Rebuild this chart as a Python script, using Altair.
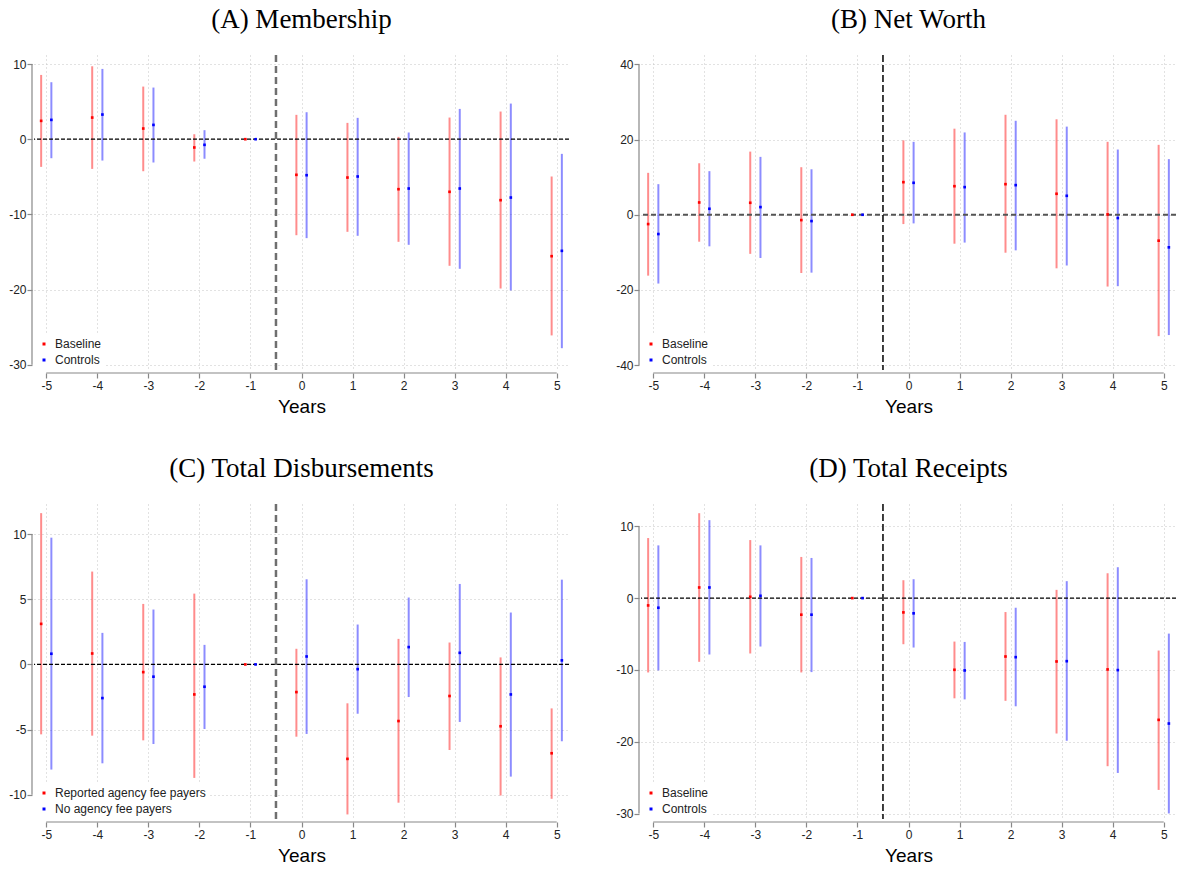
import altair as alt
import pandas as pd

years = [-5, -4, -3, -2, -1, 0, 1, 2, 3, 4, 5]
event_line = [-0.5]

# (A) Membership
a_base_est = [2.44, 2.88, 1.42, -1.10, 0.0, -4.74, -5.10, -6.65, -7.00, -8.11, -15.56]
a_base_lo = [-3.68, -3.95, -4.26, -2.97, 0.0, -12.77, -12.32, -13.65, -16.84, -19.86, -26.10]
a_base_hi = [8.55, 9.70, 7.00, 0.66, 0.0, 3.24, 2.17, 0.31, 2.88, 3.68, -4.96]
a_ctrl_est = [2.57, 3.28, 1.90, -0.75, 0.0, -4.79, -4.96, -6.56, -6.56, -7.76, -14.85]
a_ctrl_lo = [-2.53, -2.84, -3.10, -2.60, 0.0, -13.16, -12.85, -14.05, -17.24, -20.12, -27.80]
a_ctrl_hi = [7.58, 9.35, 6.87, 1.20, 0.0, 3.59, 2.84, 0.89, 4.03, 4.74, -1.95]

# (B) Net Worth
b_base_est = [-2.48, 3.27, 3.19, -1.42, 0.0, 8.67, 7.60, 8.14, 5.58, 0.09, -6.90]
b_base_lo = [-16.2, -7.17, -10.4, -15.5, 0.0, -2.48, -7.70, -10.1, -14.25, -19.1, -32.3]
b_base_hi = [11.15, 13.7, 16.8, 12.65, 0.0, 19.8, 22.9, 26.6, 25.4, 19.4, 18.6]
b_ctrl_est = [-5.13, 1.59, 2.04, -1.68, 0.0, 8.50, 7.35, 7.88, 5.04, -0.88, -8.67]
b_ctrl_lo = [-18.3, -8.4, -11.5, -15.4, 0.0, -2.3, -7.4, -9.47, -13.5, -19.0, -32.0]
b_ctrl_hi = [8.14, 11.6, 15.4, 12.1, 0.0, 19.4, 21.9, 25.0, 23.45, 17.35, 14.8]

# (C) Total Disbursements
c_base_est = [3.11, 0.84, -0.59, -2.30, 0.0, -2.12, -7.24, -4.34, -2.42, -4.74, -6.81]
c_base_lo = [-5.36, -5.46, -5.82, -8.70, 0.0, -5.54, -11.5, -10.6, -6.56, -10.05, -10.3]
c_base_hi = [11.6, 7.12, 4.64, 5.43, 0.0, 1.20, -2.98, 1.96, 1.68, 0.54, -3.37]
c_ctrl_est = [0.82, -2.58, -0.94, -1.71, 0.0, 0.61, -0.36, 1.33, 0.89, -2.30, 0.31]
c_ctrl_lo = [-8.06, -7.58, -6.10, -4.95, 0.0, -5.33, -3.78, -2.50, -4.41, -8.60, -5.89]
c_ctrl_hi = [9.72, 2.42, 4.21, 1.50, 0.0, 6.53, 3.06, 5.13, 6.17, 3.98, 6.50]

# (D) Total Receipts
d_base_est = [-1.02, 1.48, 0.18, -2.31, 0.0, -1.99, -9.98, -8.13, -8.82, -9.93, -16.95]
d_base_lo = [-10.35, -8.87, -7.71, -10.35, 0.0, -6.42, -13.95, -14.3, -18.85, -23.4, -26.7]
d_base_hi = [8.36, 11.82, 8.08, 5.73, 0.0, 2.49, -6.05, -1.94, 1.15, 3.46, -7.30]
d_ctrl_est = [-1.34, 1.48, 0.32, -2.31, 0.0, -2.12, -10.07, -8.22, -8.78, -10.02, -17.46]
d_ctrl_lo = [-10.07, -7.85, -6.74, -10.3, 0.0, -6.88, -14.1, -15.06, -19.86, -24.34, -29.98]
d_ctrl_hi = [7.34, 10.85, 7.34, 5.59, 0.0, 2.63, -6.10, -1.34, 2.36, 4.30, -4.94]

titles = ["(A) Membership", "(B) Net Worth", "(C) Total Disbursements", "(D) Total Receipts"]
labels_default = ["Baseline", "Controls"]
labels_c = ["Reported agency fee payers", "No agency fee payers"]

ticks_a = [-30, -20, -10, 0, 10]
ticks_b = [-40, -20, 0, 20, 40]
ticks_c = [-10, -5, 0, 5, 10]
ticks_d = [-30, -20, -10, 0, 10]

W, H = 535, 315
XDOM = [-5.24, 5.24]
COLORS = ["#ff0000", "#0000ff"]


def frame(labels, b_est, b_lo, b_hi, c_est, c_lo, c_hi):
    rows = []
    for i, yr in enumerate(years):
        rows.append(dict(year=yr, series=labels[0], est=b_est[i], lo=b_lo[i], hi=b_hi[i], off=-0.1))
        rows.append(dict(year=yr, series=labels[1], est=c_est[i], lo=c_lo[i], hi=c_hi[i], off=0.1))
    return pd.DataFrame(rows)


def panel(title, df, labels, ticks, ydom, zero_style, vline_style):
    xs = alt.Scale(domain=XDOM, nice=False, zero=False)
    ys = alt.Scale(domain=ydom, nice=False, zero=False)
    lab = "'' + datum.value"
    xaxis = alt.Axis(values=years, title="Years", domain=False, offset=3, grid=True,
                     labelExpr=lab, labelPadding=2, titlePadding=6)
    yaxis = alt.Axis(values=ticks, title=None, domain=False, offset=2, grid=True,
                     labelExpr=lab, labelPadding=1)
    base = alt.Chart(df).transform_calculate(xpos="datum.year + datum.off")

    bar_layers = []
    for k in range(2):
        enc = dict(x=alt.X("xpos:Q", scale=xs), y=alt.Y("lo:Q", scale=ys), y2="hi:Q")
        if k == 0:
            enc = dict(x=alt.X("xpos:Q", scale=xs, axis=xaxis), y=alt.Y("lo:Q", scale=ys, axis=yaxis), y2="hi:Q")
        bar_layers.append(
            base.transform_filter(alt.datum.series == labels[k])
            .mark_rule(strokeWidth=2, opacity=0.45, color=COLORS[k]).encode(**enc)
        )
    pts = base.mark_square(size=7, opacity=1, filled=True).encode(
        x=alt.X("xpos:Q", scale=xs),
        y=alt.Y("est:Q", scale=ys),
        color=alt.Color("series:N", scale=alt.Scale(domain=labels, range=COLORS),
                        legend=alt.Legend(title=None, orient="bottom-left", offset=0, fillColor="white",
                                          padding=4, symbolType="square", symbolSize=9,
                                          symbolStrokeWidth=0,
                                          labelFont="Liberation Sans", labelFontSize=12,
                                          labelColor="#222", rowPadding=4, labelOffset=5)),
    )
    zero = alt.Chart(pd.DataFrame({"v": [0]})).mark_rule(**zero_style).encode(y=alt.Y("v:Q", scale=ys))
    vline = alt.Chart(pd.DataFrame({"v": event_line})).mark_rule(**vline_style).encode(x=alt.X("v:Q", scale=xs))
    xline = alt.Chart(pd.DataFrame({"a": [years[0]], "b": [years[-1]]})).mark_rule(
        color="#888", strokeWidth=1.2).encode(x=alt.X("a:Q", scale=xs), x2="b:Q", y=alt.value(H + 3))
    yline = alt.Chart(pd.DataFrame({"a": [min(ticks)], "b": [max(ticks)]})).mark_rule(
        color="#888", strokeWidth=1.2).encode(y=alt.Y("a:Q", scale=ys), y2="b:Q", x=alt.value(-2))

    return alt.layer(*bar_layers, zero, vline, pts, xline, yline).properties(
        width=W, height=H, title=alt.TitleParams(title, anchor="middle", offset=20))


thin_black = dict(color="black", strokeWidth=1.2, strokeDash=[4, 2])
thick_grey = dict(color="#6f6f6f", strokeWidth=2.5, strokeDash=[7, 4])
grey_med = dict(color="#555", strokeWidth=2, strokeDash=[5, 3])
black_med = dict(color="black", strokeWidth=1.5, strokeDash=[7, 3])

pa = panel(titles[0], frame(labels_default, a_base_est, a_base_lo, a_base_hi, a_ctrl_est, a_ctrl_lo, a_ctrl_hi),
           labels_default, ticks_a, [-30.7, 11.2], thin_black, thick_grey)
pb = panel(titles[1], frame(labels_default, b_base_est, b_base_lo, b_base_hi, b_ctrl_est, b_ctrl_lo, b_ctrl_hi),
           labels_default, ticks_b, [-41.3, 42.5], grey_med, black_med)
pc = panel(titles[2], frame(labels_c, c_base_est, c_base_lo, c_base_hi, c_ctrl_est, c_ctrl_lo, c_ctrl_hi),
           labels_c, ticks_c, [-11.85, 12.3], thin_black, thick_grey)
pd_ = panel(titles[3], frame(labels_default, d_base_est, d_base_lo, d_base_hi, d_ctrl_est, d_ctrl_lo, d_ctrl_hi),
            labels_default, ticks_d, [-30.75, 13.1], thin_black, black_med)

row1 = alt.hconcat(pa, pb, spacing=45).resolve_scale(color="independent")
row2 = alt.hconcat(pc, pd_, spacing=45).resolve_scale(color="independent")
chart = alt.vconcat(row1, row2, spacing=38).properties(
    padding={"left": 8, "top": 5, "right": 0, "bottom": 0}
).configure_view(stroke=None).configure_axis(
    labelFont="Liberation Sans", labelFontSize=12, labelColor="#222",
    tickColor="#888", tickSize=5, tickWidth=1.2,
    gridColor="#c4c4c4", gridDash=[1, 3], gridWidth=1,
    titleFont="Liberation Sans", titleFontSize=19, titleFontWeight="normal", titleColor="black",
).configure_title(font="Liberation Serif", fontSize=27, fontWeight="normal", color="black")

chart.save("out.html", embed_options={"renderer": "svg", "actions": False})
